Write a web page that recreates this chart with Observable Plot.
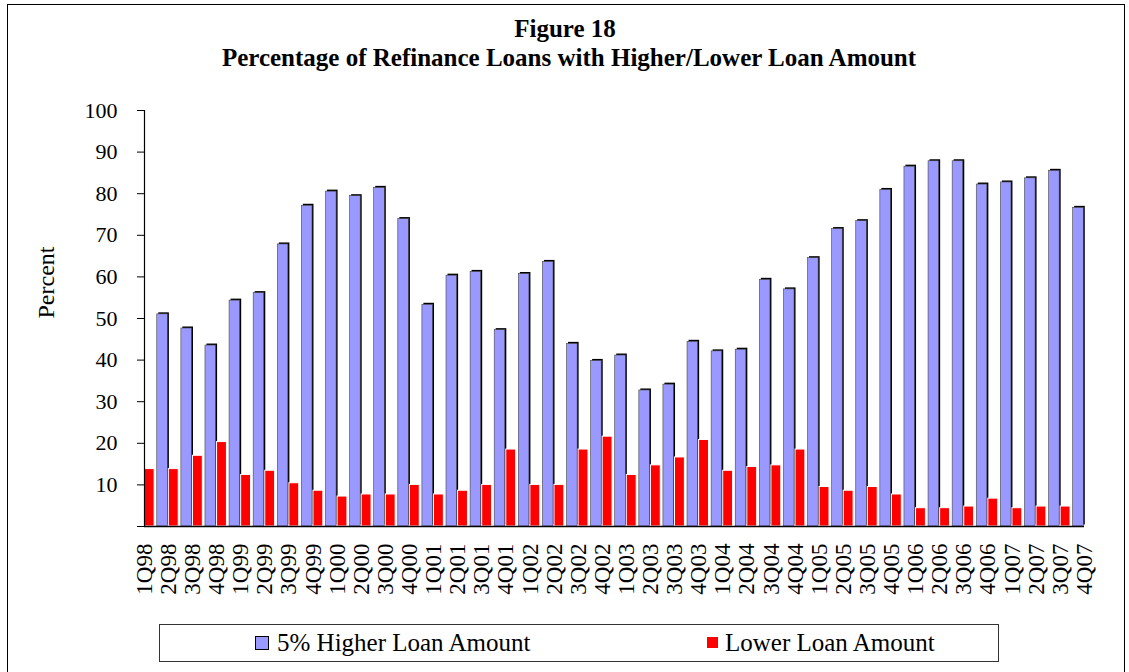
<!DOCTYPE html>
<html>
<head>
<meta charset="utf-8">
<script src="https://cdn.jsdelivr.net/npm/d3@7"></script>
<script src="https://cdn.jsdelivr.net/npm/@observablehq/plot@0.6"></script>
<style>
  html, body { margin: 0; padding: 0; background: #fff; }
  #page { position: relative; width: 1129px; height: 672px; overflow: hidden; background: #fff;
          font-family: "Liberation Serif", "Times New Roman", serif; color: #000; }
  #frame { position: absolute; left: 7px; top: 4px; width: 1118px; height: 720px; border: 1.5px solid #000; box-sizing: border-box; }
  .title { position: absolute; left: 0; width: 1138px; text-align: center; font-weight: bold; font-size: 25px; line-height: 25px; white-space: nowrap; }
  #chart { position: absolute; left: 0; top: 90px; }
  #legend { position: absolute; left: 159px; top: 624px; width: 840px; height: 38px; border: 1px solid #333; box-sizing: border-box; }
  .sw { position: absolute; box-sizing: border-box; }
  .lt { position: absolute; font-family: "Liberation Serif", "Times New Roman", serif; font-size: 25px; line-height: 25px; white-space: nowrap; }
</style>
</head>
<body>
<div id="page">
  <div id="frame"></div>
  <div class="title" style="top:16px;left:-4px">Figure 18</div>
  <div class="title" style="top:45px">Percentage of Refinance Loans with Higher/Lower Loan Amount</div>
  <div id="chart"></div>
  <div id="legend"></div>
</div>
<script>
// Quarter labels on the category axis
const quarterLabels = [
  "1Q98","2Q98","3Q98","4Q98","1Q99","2Q99","3Q99","4Q99",
  "1Q00","2Q00","3Q00","4Q00","1Q01","2Q01","3Q01","4Q01",
  "1Q02","2Q02","3Q02","4Q02","1Q03","2Q03","3Q03","4Q03",
  "1Q04","2Q04","3Q04","4Q04","1Q05","2Q05","3Q05","4Q05",
  "1Q06","2Q06","3Q06","4Q06","1Q07","2Q07","3Q07","4Q07"
];
// Series values (percent), one per bar group
const higherLoan = [
  51.0, 47.6, 43.5, 54.3, 56.1, 67.8, 77.1, 80.5, 79.4, 81.4,
  73.9, 53.3, 60.3, 61.2, 47.2, 60.7, 63.6, 43.9, 39.8, 41.1,
  32.7, 34.1, 44.4, 42.1, 42.5, 59.3, 57.0, 64.5, 71.5, 73.4,
  80.9, 86.5, 87.8, 87.8, 82.2, 82.7, 83.7, 85.5, 76.6
];
const lowerLoan = [
  13.8, 13.8, 17.0, 20.3, 12.4, 13.4, 10.4, 8.6, 7.2, 7.7,
  7.7, 10.0, 7.7, 8.6, 10.0, 18.5, 10.0, 10.0, 18.5, 21.6,
  12.4, 14.7, 16.6, 20.8, 13.4, 14.3, 14.7, 18.5, 9.5, 8.6,
  9.5, 7.7, 4.4, 4.4, 4.8, 6.7, 4.4, 4.8, 4.8
];
const seriesNames = ["5% Higher Loan Amount", "Lower Loan Amount"];
const yTicks = [0, 10, 20, 30, 40, 50, 60, 70, 80, 90, 100];
const yLabel = "Percent";

const BLUE = "#9999FF", RED = "#FF0000";
const rows = higherLoan.map((h, i) => ({i, higher: h, lower: lowerLoan[i]}));

const chart = Plot.plot({
  width: 1129,
  height: 520,
  marginLeft: 144,
  marginRight: 45,
  marginTop: 20,
  marginBottom: 84,
  x: {type: "linear", domain: [0, quarterLabels.length - 1]},
  y: {domain: [0, 100]},
  style: {fontFamily: "'Liberation Serif', 'Times New Roman', serif", fontSize: "22px", color: "#000", background: "transparent", overflow: "visible"},
  marks: [
    // shadow of the blue bars
    Plot.rect(rows, {x1: d => d.i + 0.53, x2: d => d.i + 0.97, y1: 0, y2: "higher", fill: "#000", dx: 1.5, dy: -1.5}),
    Plot.rect(rows, {x1: d => d.i + 0.53, x2: d => d.i + 0.97, y1: 0, y2: "higher", fill: BLUE, stroke: "#444", strokeWidth: 0.6}),
    Plot.rect(rows, {x1: d => d.i + 0.01, x2: d => d.i + 0.42, y1: 0, y2: "lower", fill: RED, stroke: "#fff", strokeWidth: 1}),
    Plot.ruleX([0], {y1: 0, y2: 100, stroke: "#000", strokeWidth: 1.2}),
    Plot.ruleY([0], {x1: 0, x2: quarterLabels.length - 1, stroke: "#000", strokeWidth: 1.5}),
    Plot.axisY({ticks: yTicks, tickSize: 7, tickPadding: 20, tickFormat: d => d === 0 ? "" : String(d), label: null, fontSize: 22, fontFamily: "Liberation Serif"}),
    Plot.axisX({ticks: d3.range(quarterLabels.length), tickFormat: i => quarterLabels[i], tickRotate: -90, tickSize: 0, tickPadding: 17, label: null, fontSize: 23, fontFamily: "Liberation Serif"}),
    Plot.text([50], {y: d => d, text: () => yLabel, frameAnchor: "left", dx: -98, rotate: -90, fontSize: 24, fontFamily: "Liberation Serif"})
  ]
});
document.getElementById("chart").appendChild(chart);

// Legend
const legend = document.getElementById("legend");
const items = [
  {name: seriesNames[0], color: BLUE, sw: {left: 95, top: 11, size: 14, border: "1px solid #000"}, tx: 117},
  {name: seriesNames[1], color: RED, sw: {left: 547, top: 12, size: 11, border: "none"}, tx: 565}
];
for (const it of items) {
  const s = document.createElement("div");
  s.className = "sw";
  s.style.left = it.sw.left + "px";
  s.style.top = it.sw.top + "px";
  s.style.width = it.sw.size + "px";
  s.style.height = it.sw.size + "px";
  s.style.background = it.color;
  s.style.border = it.sw.border;
  legend.appendChild(s);
  const t = document.createElement("div");
  t.className = "lt";
  t.style.left = it.tx + "px";
  t.style.top = "5px";
  t.textContent = it.name;
  legend.appendChild(t);
}
</script>
</body>
</html>
